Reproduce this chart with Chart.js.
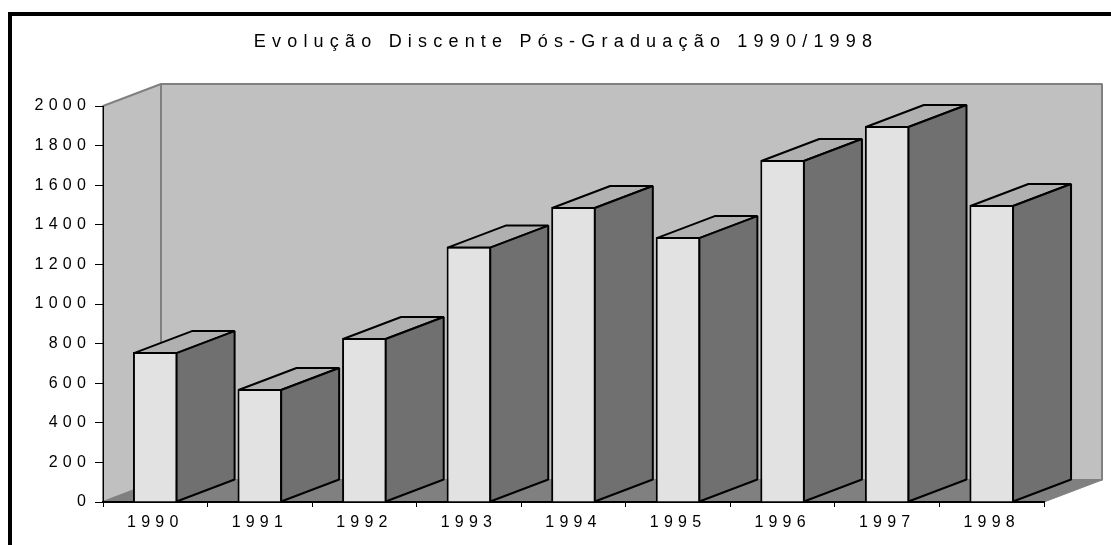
<!DOCTYPE html>
<html>
<head>
<meta charset="utf-8">
<script src="https://cdn.jsdelivr.net/npm/chart.js@4"></script>
<style>
html, body { margin: 0; padding: 0; background: #fff; overflow: hidden; }
#frame { position: absolute; left: 8px; top: 12px; right: 0; bottom: 0; border-left: 4px solid #000; border-top: 4px solid #000; }
#PieChart { position: absolute; left: 0; top: 0; }
</style>
</head>
<body>
<div id="frame"></div>
<canvas id="PieChart" width="1111" height="545"></canvas>
<script>
var chartTitle = "Evolução Discente Pós-Graduação 1990/1998";
var years = ["1990", "1991", "1992", "1993", "1994", "1995", "1996", "1997", "1998"];
var students = [757, 571, 828, 1290, 1490, 1338, 1727, 1899, 1500];

// depth of the fake 3d box
var depthX = 58;
var depthY = 22;

function poly(ctx, pts, fill, stroke, lw) {
    ctx.beginPath();
    ctx.moveTo(pts[0][0], pts[0][1]);
    for (var i = 1; i < pts.length; i++) {
        ctx.lineTo(pts[i][0], pts[i][1]);
    }
    ctx.closePath();
    if (fill) {
        ctx.fillStyle = fill;
        ctx.fill();
    }
    if (stroke) {
        ctx.strokeStyle = stroke;
        ctx.lineWidth = lw;
        ctx.lineJoin = "bevel";
        ctx.stroke();
    }
}

var box3d = {
    id: "box3d",
    beforeDraw: function (chart) {
        var ctx = chart.ctx;
        var a = chart.chartArea;
        ctx.save();
        // side wall, back wall, floor
        poly(ctx, [[a.left, a.top], [a.left + depthX, a.top - depthY], [a.left + depthX, a.bottom - depthY], [a.left, a.bottom]], "#c0c0c0", "#808080", 2);
        poly(ctx, [[a.left + depthX, a.top - depthY], [a.right + depthX, a.top - depthY], [a.right + depthX, a.bottom - depthY], [a.left + depthX, a.bottom - depthY]], "#c0c0c0", "#808080", 2);
        poly(ctx, [[a.left, a.bottom], [a.left + depthX, a.bottom - depthY], [a.right + depthX, a.bottom - depthY], [a.right, a.bottom]], "#808080", "#808080", 1);
        ctx.restore();
        // spaced out tick labels
        ctx.letterSpacing = "5.2px";
    },
    afterDatasetsDraw: function (chart) {
        var ctx = chart.ctx;
        var bars = chart.getDatasetMeta(0).data;
        ctx.save();
        for (var i = 0; i < bars.length; i++) {
            var b = bars[i];
            // the bar border is inset by 1px, start from its centre line
            var l = b.x - b.width / 2 + 1;
            var r = b.x + b.width / 2 - 1;
            var t = b.y + 1;
            poly(ctx, [[l, t], [l + depthX, t - depthY], [r + depthX, t - depthY], [r, t]], "#b0b0b0", "#000", 2);
            poly(ctx, [[r, t], [r + depthX, t - depthY], [r + depthX, b.base - depthY], [r, b.base]], "#707070", "#000", 2);
        }
        ctx.restore();
    },
    afterDraw: function (chart) {
        var ctx = chart.ctx;
        ctx.save();
        ctx.letterSpacing = "6.2px";
        ctx.font = "18px 'Liberation Sans'";
        ctx.fillStyle = "#000";
        ctx.textAlign = "center";
        ctx.textBaseline = "middle";
        ctx.fillText(chartTitle, 566, 42);
        ctx.restore();
    }
};

var ctx = document.getElementById("PieChart").getContext("2d");
var myChart = new Chart(ctx, {
    type: "bar",
    data: {
        labels: years,
        datasets: [
            {
                data: students,
                backgroundColor: "#e2e2e2",
                borderColor: "#000",
                borderWidth: 2,
                barPercentage: 0.427,
                categoryPercentage: 1
            }
        ]
    },
    plugins: [box3d],
    options: {
        responsive: false,
        animation: false,
        layout: { padding: { top: 106, right: 67 } },
        plugins: {
            legend: { display: false },
            title: { display: false },
            tooltip: { enabled: false }
        },
        scales: {
            x: {
                afterFit: function (scale) { scale.height = 43; },
                border: { color: "#000", width: 2 },
                grid: { drawOnChartArea: false, tickLength: 5, tickColor: "#000", tickWidth: 1 },
                ticks: {
                    autoSkip: false,
                    maxRotation: 0,
                    padding: 6,
                    color: "#000",
                    font: { family: "Liberation Sans", size: 16 }
                }
            },
            y: {
                min: 0,
                max: 2000,
                afterFit: function (scale) { scale.width = 103; },
                border: { color: "#000", width: 1 },
                grid: { drawOnChartArea: false, tickLength: 8, tickColor: "#000", tickWidth: 1 },
                ticks: {
                    stepSize: 200,
                    padding: 4,
                    color: "#000",
                    font: { family: "Liberation Sans", size: 16 },
                    callback: function (value) { return String(value); }
                }
            }
        }
    }
});
</script>
</body>
</html>
